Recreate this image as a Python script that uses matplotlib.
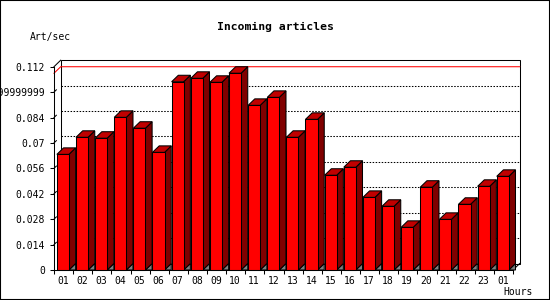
import matplotlib
matplotlib.use("Agg")
import matplotlib.pyplot as plt
from matplotlib.patches import Rectangle, Polygon

# hourly rate of incoming articles
hours = ["01", "02", "03", "04", "05", "06", "07", "08", "09", "10", "11", "12",
         "13", "14", "15", "16", "17", "18", "19", "20", "21", "22", "23", "01"]
rate = [0.0637, 0.0731, 0.0726, 0.0841, 0.0781, 0.0648, 0.1037, 0.1056,
        0.1034, 0.1084, 0.0907, 0.0951, 0.0731, 0.0830, 0.0522, 0.0566,
        0.0400, 0.0351, 0.0235, 0.0456, 0.0279, 0.0362, 0.0461, 0.0516]
yticks = [0, 0.014, 0.028, 0.042, 0.056, 0.07, 0.084, 0.098, 0.112]
ylabels = ["0", "0.014", "0.028", "0.042", "0.056", "0.07", "0.084",
           "0.09799999999999999", "0.112"]

W, H = 550, 300
FONT = "DejaVu Sans Mono"
LW = 0.75

fig = plt.figure(figsize=(W / 100, H / 100), dpi=100)
ax = fig.add_axes([54 / W, 30 / H, 459 / W, 203.3 / H])
n = len(rate)
ymax = yticks[-1]
ax.set_xlim(0, n)
ax.set_ylim(0, ymax)

# depth of the fake 3d, in data units (about 6.7 px right, 6.5 px up)
dx = 6.7 * n / 459
dy = 6.5 * ymax / 203.3

# back wall
ax.add_patch(Rectangle((dx, dy), n, ymax, facecolor="white", edgecolor="black",
                       lw=LW, clip_on=False, zorder=1))
for v in yticks[1:-1]:
    ax.plot([dx, n + dx], [v + dy, v + dy], color="black", lw=LW,
            dashes=(1.45, 1.45), clip_on=False, zorder=2)
    ax.plot([0, dx * 0.35], [v, v + dy * 0.35], color="black", lw=LW,
            clip_on=False, zorder=2)

# max line
top = max(rate)
ax.plot([0, dx, n + dx], [top, top + dy, top + dy], color="red", lw=LW,
        clip_on=False, zorder=2)

# frame diagonals
ax.plot([0, dx], [ymax, ymax + dy], color="black", lw=LW, clip_on=False, zorder=2)
ax.plot([n, n + dx], [0, dy], color="black", lw=LW, clip_on=False, zorder=2)

# bars
for i, v in enumerate(rate):
    x0 = i + 0.15
    x1 = x0 + 0.63
    ax.add_patch(Polygon([(x1, 0), (x1 + dx, dy), (x1 + dx, 0)], closed=True,
                         facecolor="#808080", edgecolor="black", lw=LW,
                         clip_on=False, zorder=3))
    ax.add_patch(Polygon([(x1, 0), (x1 + dx, dy), (x1 + dx, v + dy), (x1, v)],
                         closed=True, facecolor="#800000", edgecolor="black",
                         lw=LW, clip_on=False, zorder=3))
    ax.add_patch(Polygon([(x0, v), (x0 + dx, v + dy), (x1 + dx, v + dy), (x1, v)],
                         closed=True, facecolor="#c00000", edgecolor="black",
                         lw=LW, clip_on=False, zorder=3))
    ax.add_patch(Rectangle((x0, 0), x1 - x0, v, facecolor="red",
                           edgecolor="black", lw=LW, clip_on=False, zorder=4))

# axes
for s in ["top", "right"]:
    ax.spines[s].set_visible(False)
for s in ["left", "bottom"]:
    ax.spines[s].set_linewidth(LW)
    ax.spines[s].set_zorder(5)
ax.patch.set_visible(False)

ax.set_yticks(yticks)
ax.set_yticklabels(ylabels, fontfamily=FONT, fontsize=7)
ax.tick_params(axis="y", length=2.9, width=LW, pad=3.6)

ax.set_xticks(range(n + 1))
ax.set_xticklabels([])
ax.set_xticks([i + 0.465 for i in range(n)], minor=True)
ax.set_xticklabels(hours, minor=True, fontfamily=FONT, fontsize=7)
ax.tick_params(axis="x", which="major", length=2.9, width=LW)
ax.tick_params(axis="x", which="minor", length=0, pad=4.6)

fig.text(0.5, 1 - 26.7 / H, "Incoming articles", ha="center", va="center",
         fontfamily=FONT, fontsize=8.2, fontweight="bold")
fig.text(30 / W, 1 - 37 / H, "Art/sec", ha="left", va="center",
         fontfamily=FONT, fontsize=7)
fig.text(533 / W, 1 - 292 / H, "Hours", ha="right", va="center",
         fontfamily=FONT, fontsize=7)

fig.patches.append(Rectangle((0, 0), 1, 1, transform=fig.transFigure,
                             fill=False, edgecolor="black", lw=1.5))

fig.savefig("out.png", dpi=100)
